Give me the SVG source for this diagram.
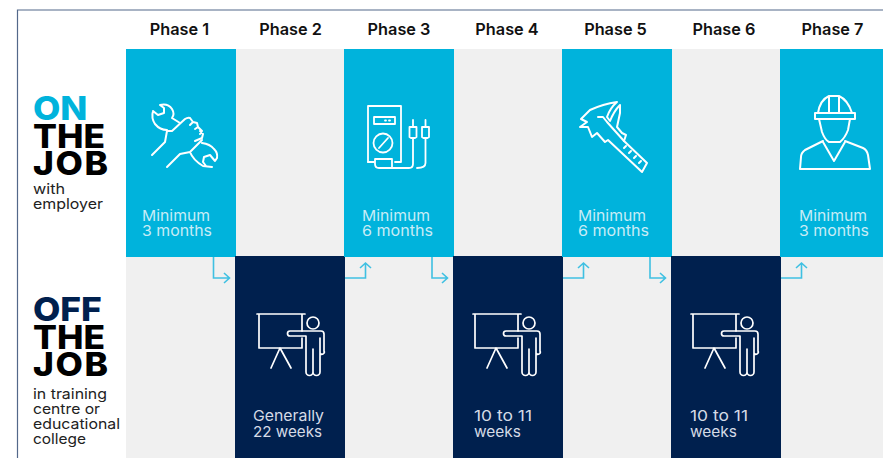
<svg xmlns="http://www.w3.org/2000/svg" width="883" height="458" viewBox="0 0 883 458">
<style>
.ph{font:600 16.300px "Inter","Liberation Sans",sans-serif;fill:#111;text-anchor:middle}
.big{font:800 32.500px "Inter","Liberation Sans",sans-serif;fill:#000}
.sm{font:400 14.400px "Inter","Liberation Sans",sans-serif;fill:#222}
.lb{font:400 15px "Inter","Liberation Sans",sans-serif}
.w{fill:#c8ecf6}
.wd{fill:#d5dbe6}
.ic{fill:none;stroke:#fff;stroke-width:2;stroke-linecap:round;stroke-linejoin:round}
.bl{fill:#00b3dc}.nv{fill:#00204e}.gr{fill:#f0f0f0}
.cn{fill:none;stroke:#3fc0e2;stroke-width:1.600}
</style>
<defs>
<g id="teach" class="ic" style="stroke-width:1.700">
<path d="M-1 0H47M1 0V34H44V24M44 0V17M22 34L13 54M22 34L33 54"/>
<circle cx="55" cy="9" r="6"/>
<path d="M47 17H32a2.500 2.500 0 0 0 0 5H48V58a3 3 0 0 0 7 0V35M55 58a3 3 0 0 0 7 0V24M47 17H63a3 3 0 0 1 3 3V37a2 2 0 0 1-4 2"/>
</g>
</defs>
<rect width="883" height="458" fill="#fff"/>
<path d="M17.500 458V10H883" fill="none" stroke="#53688a" stroke-width="1.200"/>
<g id="phases">
<text class="ph" x="179.500" y="35">Phase 1</text>
<text class="ph" x="290.500" y="35">Phase 2</text>
<text class="ph" x="399" y="35">Phase 3</text>
<text class="ph" x="507" y="35">Phase 4</text>
<text class="ph" x="615.500" y="35">Phase 5</text>
<text class="ph" x="724" y="35">Phase 6</text>
<text class="ph" x="832.500" y="35">Phase 7</text>
</g>
<g id="row-on">
<text class="big" transform="translate(33 0) scale(1.090 1)"><tspan x="0" y="120.500" style="fill:#00b3dc">ON</tspan><tspan x="0" y="148.500">THE</tspan><tspan x="0" y="175.500" letter-spacing="1.500">JOB</tspan></text>
<text class="sm" x="33" y="194" textLength="32" lengthAdjust="spacingAndGlyphs">with</text>
<text class="sm" x="33" y="209" textLength="70" lengthAdjust="spacingAndGlyphs">employer</text>
</g>
<g id="row-off">
<text class="big" transform="translate(33 0) scale(1.090 1)"><tspan x="0" y="321.500" style="fill:#00204e">OFF</tspan><tspan x="0" y="349.500">THE</tspan><tspan x="0" y="376.500" letter-spacing="1.500">JOB</tspan></text>
<text class="sm" x="33" y="399" textLength="74" lengthAdjust="spacingAndGlyphs">in training</text>
<text class="sm" x="33" y="414" textLength="67" lengthAdjust="spacingAndGlyphs">centre or</text>
<text class="sm" x="33" y="429" textLength="87" lengthAdjust="spacingAndGlyphs">educational</text>
<text class="sm" x="33" y="444" textLength="53" lengthAdjust="spacingAndGlyphs">college</text>
</g>
<g id="grid-gray">
<rect class="gr" x="236" y="49" width="108" height="208"/>
<rect class="gr" x="454" y="49" width="108" height="208"/>
<rect class="gr" x="672" y="49" width="108" height="208"/>
<rect class="gr" x="126" y="257" width="109" height="201"/>
<rect class="gr" x="345" y="257" width="108" height="201"/>
<rect class="gr" x="563" y="257" width="108" height="201"/>
<rect class="gr" x="781" y="257" width="102" height="201"/>
</g>
<g id="phase-1">
<rect class="bl" x="126" y="49" width="110" height="208"/>
<g class="ic">
<path d="M160 105Q168 103 172 109Q175 114 172 118L180 123M153 111Q151 118 155 124Q160 130 167 130M153 111L158 115L164 113L164 108L160 105"/>
<path d="M152 155L165 142L167 131H172L185 119Q188 117 190 118L193 122L190 125M193 122L197 123L198 127L195 129M198 127L202 131L200 134M200 131L203 134L202 138L195 141"/>
<path d="M167 167L180 154L190 152L202 140M190 152Q193 160 203 166L212 167M202 143Q210 144 214 149Q218 153 217 158L215 161L210 155L204 157L203 162L206 166"/>
</g>
<text class="lb w" x="142" y="221" textLength="68" lengthAdjust="spacingAndGlyphs">Minimum</text><text class="lb w" x="142" y="236" textLength="70" lengthAdjust="spacingAndGlyphs">3 months</text>
</g>
<g id="phase-2">
<rect class="nv" x="235" y="256" width="110" height="202"/>
<use href="#teach" x="258" y="314"/>
<text class="lb wd" x="253" y="421" textLength="71" lengthAdjust="spacingAndGlyphs">Generally</text><text class="lb wd" x="253" y="437" textLength="69" lengthAdjust="spacingAndGlyphs">22 weeks</text>
</g>
<g id="phase-3">
<rect class="bl" x="344" y="49" width="110" height="208"/>
<g class="ic" style="stroke-width:1.800">
<path d="M368 162V106H401V162H395"/>
<path d="M374 162H368"/>
<rect x="374" y="117" width="21" height="7"/>
<path d="M385 120.500H386M389 120.500H390"/>
<circle cx="383" cy="143" r="9.500"/>
<path d="M379 148L388 138M375 159V164Q375 168 379 168H409Q413 168 413 164V138M375 159H392V168M413 120V127M425.500 120V127M417 168Q425.500 168 425.500 163V138"/>
<path d="M409.500 127H416.500V137L415 138H411L409.500 137ZM422 127H429V137L427.500 138H423.500L422 137Z"/>
</g>
<text class="lb w" x="362" y="221" textLength="68" lengthAdjust="spacingAndGlyphs">Minimum</text><text class="lb w" x="362" y="236" textLength="71" lengthAdjust="spacingAndGlyphs">6 months</text>
</g>
<g id="phase-4">
<rect class="nv" x="453" y="256" width="110" height="202"/>
<use href="#teach" x="474" y="314"/>
<text class="lb wd" x="474" y="421" textLength="58" lengthAdjust="spacingAndGlyphs">10 to 11</text><text class="lb wd" x="474" y="437" textLength="47" lengthAdjust="spacingAndGlyphs">weeks</text>
</g>
<g id="phase-5">
<rect class="bl" x="562" y="49" width="110" height="208"/>
<g class="ic">
<path d="M581 119L590 110Q603 104 617 102Q610 108 607 117L610 121Q614 111 620 105V113L617 127L622 133L626 135L624 141L647 163L642 172L608 140L605 142L597 133L592 137L588 127L580 127L587 122Z"/>
<path d="M598 117H603L607 122L624 141M626 146L624 148M631 151L629 153M636 156L634 158M641 161L639 163"/>
</g>
<text class="lb w" x="578" y="221" textLength="68" lengthAdjust="spacingAndGlyphs">Minimum</text><text class="lb w" x="578" y="236" textLength="71" lengthAdjust="spacingAndGlyphs">6 months</text>
</g>
<g id="phase-6">
<rect class="nv" x="671" y="256" width="110" height="202"/>
<use href="#teach" x="692" y="314"/>
<text class="lb wd" x="690" y="421" textLength="58" lengthAdjust="spacingAndGlyphs">10 to 11</text><text class="lb wd" x="690" y="437" textLength="47" lengthAdjust="spacingAndGlyphs">weeks</text>
</g>
<g id="phase-7">
<rect class="bl" x="780" y="49" width="103" height="208"/>
<g class="ic">
<path d="M815 113H855V119H815ZM818 113Q820 100 829 96H839Q848 100 852 113M829 96V113M839 96V113"/>
<path d="M819 119L822 132Q825 140 829 142H840Q845 138 848 130L850 119"/>
<path d="M823 141L805 150Q801 153 801 157L800 169H870L868 155Q867 150 863 148L845 141M823 142L834 161L845 142"/>
</g>
<text class="lb w" x="799" y="221" textLength="68" lengthAdjust="spacingAndGlyphs">Minimum</text><text class="lb w" x="799" y="236" textLength="70" lengthAdjust="spacingAndGlyphs">3 months</text>
</g>
<g id="connectors" class="cn">
<path d="M213.500 257V278H229M224 273L229.500 278L224 283"/>
<path d="M345 278H365.500V263M360 268L365.500 263L371 268"/>
<path d="M432 257V278H447M442 273L447.500 278L442 283"/>
<path d="M563 278H583.500V263M578 268L583.500 263L589 268"/>
<path d="M650 257V278H665M660 273L665.500 278L660 283"/>
<path d="M781 278H801.500V263M796 268L801.500 263L807 268"/>
</g>
</svg>
